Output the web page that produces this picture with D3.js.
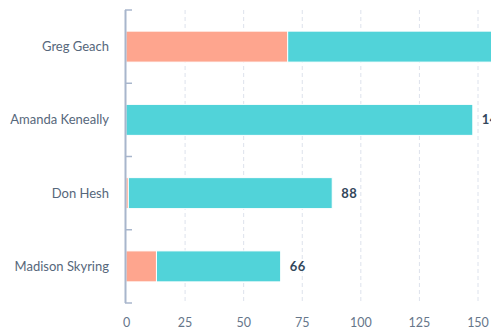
<!doctype html>
<html>
<head>
  <meta charset="utf-8">
  <title>Stacked bars</title>
  <script src="https://cdnjs.cloudflare.com/ajax/libs/d3/7.8.5/d3.min.js"></script>
  <style>
    html, body { margin: 0; padding: 0; background: #fff; overflow: hidden; }
    svg { display: block; font-family: Lato, "Open Sans", sans-serif; }
  </style>
</head>
<body>
  <div id="chart"></div>
  <script>
    // categories and series values
    const people = ['Greg Geach', 'Amanda Keneally', 'Don Hesh', 'Madison Skyring'];
    const firstPart = [69, 0, 1, 13];
    const secondPart = [111, 148, 87, 53];
    const xTicks = [0, 25, 50, 75, 100, 125, 150];

    const width = 491, height = 330;
    const margin = { left: 126, top: 10, bottom: 27 };

    const rows = people.map((name, i) => ({
      name: name,
      a: firstPart[i],
      b: secondPart[i],
      total: firstPart[i] + secondPart[i]
    }));

    const svg = d3.select('#chart').append('svg')
      .attr('width', width)
      .attr('height', height);

    const x = d3.scaleLinear()
      .domain([0, 150])
      .range([margin.left, 477.5]);

    const y = d3.scaleBand()
      .domain(people)
      .range([margin.top, height - margin.bottom])
      .paddingInner(0.577)
      .paddingOuter(0.2885);

    // dashed grid
    svg.append('g')
      .selectAll('line')
      .data(xTicks.slice(1))
      .join('line')
      .attr('x1', d => x(d) + 0.5)
      .attr('x2', d => x(d) + 0.5)
      .attr('y1', margin.top)
      .attr('y2', height - margin.bottom)
      .attr('stroke', '#dde2ec')
      .attr('stroke-dasharray', '4,3');

    // x tick labels
    const xAxis = svg.append('g')
      .attr('transform', `translate(0, ${height - margin.bottom})`)
      .call(d3.axisBottom(x).tickValues(xTicks).tickSize(0).tickPadding(15));
    xAxis.select('.domain').remove();
    xAxis.selectAll('text')
      .attr('fill', '#66768a')
      .style('font-size', '12.5px')
      .style('font-family', 'Lato, sans-serif');

    // stacked bars
    const stack = d3.stack().keys(['a', 'b'])(rows);
    const colors = { a: '#fea58e', b: '#51d3d9' };

    svg.append('g')
      .selectAll('g')
      .data(stack)
      .join('g')
      .attr('fill', d => colors[d.key])
      .selectAll('rect')
      .data(d => d.filter(s => s[1] > s[0]))
      .join('rect')
      .attr('x', d => x(d[0]))
      .attr('y', d => y(d.data.name))
      .attr('width', d => x(d[1]) - x(d[0]))
      .attr('height', y.bandwidth())
      .attr('stroke', '#fff')
      .attr('stroke-width', 1);

    // totals
    svg.append('g')
      .selectAll('text')
      .data(rows)
      .join('text')
      .attr('x', d => x(d.total) + 9)
      .attr('y', d => y(d.name) + y.bandwidth() / 2)
      .attr('dy', '0.35em')
      .attr('fill', '#33475b')
      .style('font-size', '13px')
      .style('font-weight', 'bold')
      .style('letter-spacing', '0.5px')
      .text(d => d.total);

    // left axis with ticks on band edges
    const yAxis = svg.append('g');
    yAxis.append('line')
      .attr('x1', margin.left - 0.5)
      .attr('x2', margin.left - 0.5)
      .attr('y1', margin.top)
      .attr('y2', height - margin.bottom)
      .attr('stroke', '#a8b6cc')
      .attr('stroke-width', 2);

    const edges = people.map(p => y(p) - y.step() * y.paddingInner() / 2)
      .concat([height - margin.bottom]);
    yAxis.selectAll('.edge')
      .data(edges)
      .join('line')
      .attr('class', 'edge')
      .attr('x1', margin.left - 1)
      .attr('x2', margin.left + 6)
      .attr('y1', d => d)
      .attr('y2', d => d)
      .attr('stroke', '#a8b6cc')
      .attr('stroke-width', 1.5);

    yAxis.selectAll('.name')
      .data(people)
      .join('text')
      .attr('class', 'name')
      .attr('x', 109)
      .attr('y', d => y(d) + y.bandwidth() / 2)
      .attr('dy', '0.35em')
      .attr('text-anchor', 'end')
      .attr('fill', '#56677b')
      .style('font-size', '13px')
      .text(d => d);
  </script>
</body>
</html>
